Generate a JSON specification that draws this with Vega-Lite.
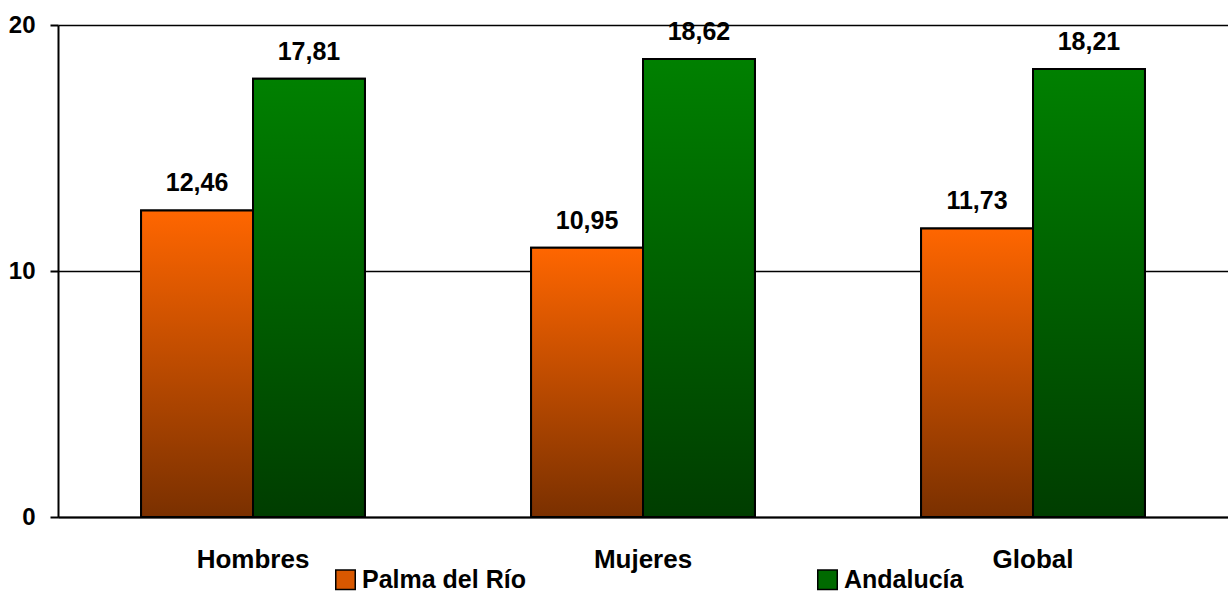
{
  "$schema": "https://vega.github.io/schema/vega-lite/v6.json",
  "autosize": {"type": "none"},
  "width": 1170,
  "height": 492,
  "padding": {"left": 58, "top": 25, "right": 0, "bottom": 75},
  "background": "white",
  "config": {
    "font": "Liberation Sans",
    "view": {"stroke": null},
    "locale": {"number": {"decimal": ",", "thousands": ".", "grouping": [3], "currency": ["", " €"]}}
  },
  "data": {
    "values": [
      {"grupo": "Hombres", "serie": "Palma del Río", "valor": 12.46},
      {"grupo": "Hombres", "serie": "Andalucía", "valor": 17.81},
      {"grupo": "Mujeres", "serie": "Palma del Río", "valor": 10.95},
      {"grupo": "Mujeres", "serie": "Andalucía", "valor": 18.62},
      {"grupo": "Global", "serie": "Palma del Río", "valor": 11.73},
      {"grupo": "Global", "serie": "Andalucía", "valor": 18.21}
    ]
  },
  "encoding": {
    "x": {
      "field": "grupo", "type": "nominal", "sort": ["Hombres", "Mujeres", "Global"],
      "scale": {"paddingInner": 0.426, "paddingOuter": 0.213},
      "axis": {"title": null, "labelAngle": 0, "labelFont": "Liberation Sans", "labelFontWeight": "bold", "labelFontSize": 26, "labelColor": "black", "ticks": false, "labelPadding": 29, "domainColor": "black", "domainWidth": 2}
    },
    "xOffset": {"field": "serie", "type": "nominal", "sort": ["Palma del Río", "Andalucía"]},
    "y": {
      "field": "valor", "type": "quantitative",
      "scale": {"domain": [0, 20], "nice": false},
      "axis": {"title": null, "values": [0, 10, 20], "labelFont": "Liberation Sans", "labelFontWeight": "bold", "labelFontSize": 24, "labelColor": "black", "labelPadding": 15, "tickSize": 8, "tickColor": "black", "tickWidth": 2, "domainColor": "black", "domainWidth": 2, "grid": true, "gridColor": "black", "gridWidth": 1.5, "gridOpacity": 1}
    }
  },
  "layer": [
    {
      "mark": {"type": "bar", "stroke": "black", "strokeWidth": 2, "opacity": 1, "fillOpacity": 1},
      "encoding": {
        "color": {
          "field": "serie", "type": "nominal", "sort": ["Palma del Río", "Andalucía"],
          "scale": {"domain": ["Palma del Río", "Andalucía"], "range": ["#D85800", "#006A00"]},
          "legend": {
            "title": null, "orient": "none", "legendX": 275, "legendY": 542, "direction": "horizontal", "columns": 2,
            "symbolType": "square", "symbolSize": 380, "symbolStrokeColor": "black", "symbolStrokeWidth": 1.5, "symbolOpacity": 1,
            "labelFont": "Liberation Sans", "labelFontWeight": "bold", "labelFontSize": 25, "labelColor": "black", "labelOffset": 4,
            "columnPadding": 288, "labelLimit": 300, "padding": 0
          }
        }
      }
    },
    {
      "mark": {"type": "bar", "stroke": "black", "strokeWidth": 2, "opacity": 1, "fillOpacity": 1},
      "encoding": {
        "fill": {
          "condition": {
            "test": "datum.serie === 'Andalucía'",
            "value": {"gradient": "linear", "x1": 0, "y1": 0, "x2": 0, "y2": 1, "stops": [{"offset": 0, "color": "#008000"}, {"offset": 1, "color": "#003D00"}]}
          },
          "value": {"gradient": "linear", "x1": 0, "y1": 0, "x2": 0, "y2": 1, "stops": [{"offset": 0, "color": "#FF6600"}, {"offset": 1, "color": "#7A3000"}]}
        }
      }
    },
    {
      "mark": {"type": "text", "baseline": "alphabetic", "dy": -19, "font": "Liberation Sans", "fontWeight": "bold", "fontSize": 25, "color": "black"},
      "encoding": {
        "text": {"field": "valor", "type": "quantitative", "format": ".2f"}
      }
    }
  ]
}
